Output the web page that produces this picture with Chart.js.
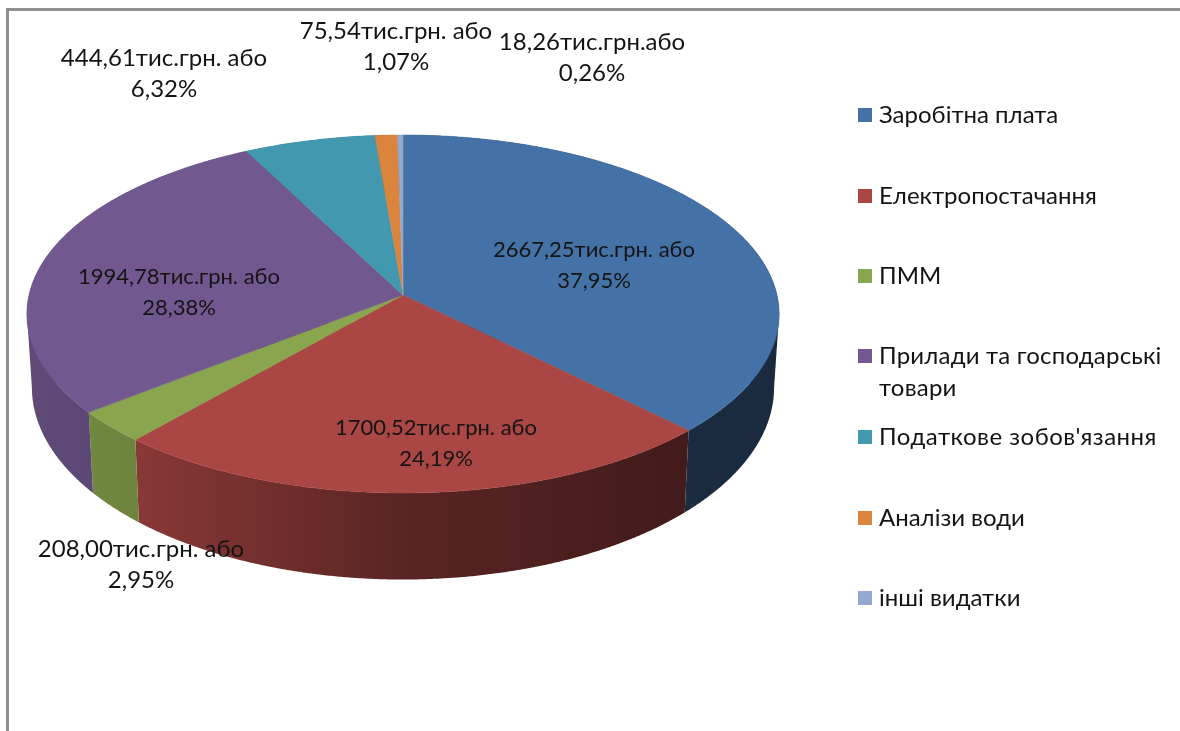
<!DOCTYPE html>
<html lang="uk">

<head>
  <meta charset="UTF-8">
  <title>Структура видатків</title>
  <script src="https://cdn.jsdelivr.net/npm/chart.js"></script>
  <style>
    html, body { margin: 0; padding: 0; background: #fff; overflow: hidden; }
    canvas { display: block; filter: blur(0.5px); }
  </style>
</head>

<body>
  <canvas id="cost-chart" width="1180" height="731"></canvas>

  <script>
    const categories = ['Заробітна плата', 'Електропостачання', 'ПММ', 'Прилади та господарські товари',
      'Податкове зобов\'язання', 'Аналізи води', 'інші видатки'];
    const amounts = [2667.25, 1700.52, 208.00, 1994.78, 444.61, 75.54, 18.26];
    const amountLabels = ['2667,25тис.грн. або', '1700,52тис.грн. або', '208,00тис.грн. або', '1994,78тис.грн. або',
      '444,61тис.грн. або', '75,54тис.грн. або', '18,26тис.грн.або'];
    const percentLabels = ['37,95%', '24,19%', '2,95%', '28,38%', '6,32%', '1,07%', '0,26%'];
    const colors = ['#4472A6', '#AA4643', '#89A54E', '#71588F', '#4198AF', '#DB843D', '#93A9CF'];

    // where each data label sits (centre x, first line y, font px)
    const labelX = [594, 436, 141, 179, 164, 396, 592];
    const labelY = [250, 428, 549, 277, 58, 31, 42];
    const labelSize = [22, 22, 24, 22, 24, 24, 24];
    const legendRows = [115, 196, 276, 356, 437, 518, 598];
    const legendSpacing = [0, 0, 0, 0.2, 0.5, 0, 0];

    const FONT_FAMILY = 'Lato, "Noto Sans", sans-serif';
    const TEXT_COLOR = '#141414';
    const TOP = { cx: 403, cy: 295, a: 374, b: 177 };
    const BOTTOM = { cx: 403, cy: 367, a: 369, b: 190 };
    const TILT = 0.106;
    // side wall gets darker from left to right: [x, brightness]
    const WALL_LIGHT = [[30, 0.84], [140, 0.8], [400, 0.53], [680, 0.39], [780, 0.38]];

    // the 3d view: circle angle -> point on the tilted disc
    function project(disc, angle) {
      const u = Math.cos(angle), v = Math.sin(angle);
      const w = 1 - TILT * v;
      return [disc.cx + disc.a * u / w, disc.cy + disc.b * v / w];
    }

    function darken(hex, f) {
      const n = parseInt(hex.slice(1), 16);
      return `rgb(${Math.round((n >> 16) * f)},${Math.round(((n >> 8) & 255) * f)},${Math.round((n & 255) * f)})`;
    }

    function arcAngles(arc) {
      const list = [];
      for (let a = arc.startAngle; a < arc.endAngle; a += 0.005) list.push(a);
      list.push(arc.endAngle);
      return list;
    }

    function wallGradient(ctx, color) {
      const x0 = WALL_LIGHT[0][0], x1 = WALL_LIGHT[WALL_LIGHT.length - 1][0];
      const gradient = ctx.createLinearGradient(x0, 0, x1, 0);
      WALL_LIGHT.forEach(s => gradient.addColorStop((s[0] - x0) / (x1 - x0), darken(color, s[1])));
      return gradient;
    }

    function drawSides(ctx, arcs) {
      arcs.forEach((arc, i) => {
        const angles = arcAngles(arc);
        ctx.fillStyle = wallGradient(ctx, colors[i]);
        ctx.beginPath();
        angles.forEach((a, k) => {
          const p = project(TOP, a);
          if (k === 0) ctx.moveTo(p[0], p[1]);
          else ctx.lineTo(p[0], p[1]);
        });
        angles.reverse().forEach(a => {
          const p = project(BOTTOM, a);
          ctx.lineTo(p[0], p[1]);
        });
        ctx.closePath();
        ctx.fill();
      });

      // outline of the drum between the widest points of both discs
      [Math.asin(TILT), Math.PI - Math.asin(TILT)].forEach(angle => {
        const i = arcs.findIndex(arc => angle >= arc.startAngle && angle <= arc.endAngle);
        const p1 = project(TOP, angle), p2 = project(BOTTOM, angle);
        ctx.fillStyle = wallGradient(ctx, colors[i]);
        ctx.beginPath();
        ctx.moveTo(p1[0], p1[1]);
        ctx.lineTo(p2[0], p2[1]);
        ctx.lineTo(TOP.cx, TOP.cy + 30);
        ctx.closePath();
        ctx.fill();
      });
    }

    function drawTop(ctx, arcs) {
      arcs.forEach((arc, i) => {
        ctx.fillStyle = colors[i];
        ctx.strokeStyle = colors[i];
        ctx.lineWidth = 0.5;
        ctx.beginPath();
        ctx.moveTo(TOP.cx, TOP.cy);
        arcAngles(arc).forEach(a => {
          const p = project(TOP, a);
          ctx.lineTo(p[0], p[1]);
        });
        ctx.closePath();
        ctx.fill();
        ctx.stroke();
      });
    }

    const pie3d = {
      id: 'pie3d',
      beforeDraw(chart) {
        const ctx = chart.ctx;
        ctx.save();
        ctx.strokeStyle = '#909090';
        ctx.lineWidth = 3;
        ctx.beginPath();
        ctx.moveTo(7.5, 731);
        ctx.lineTo(7.5, 9.5);
        ctx.lineTo(1180, 9.5);
        ctx.stroke();
        ctx.restore();
      },
      // Chart.js works out the slice angles, the tilted disc is painted here
      beforeDatasetDraw(chart) {
        const ctx = chart.ctx;
        const arcs = chart.getDatasetMeta(0).data;
        ctx.save();
        drawSides(ctx, arcs);
        drawTop(ctx, arcs);
        ctx.restore();
        return false;
      },
      afterDraw(chart) {
        const ctx = chart.ctx;
        ctx.save();
        ctx.fillStyle = TEXT_COLOR;
        ctx.textBaseline = 'middle';
        ctx.textAlign = 'center';
        amountLabels.forEach((text, i) => {
          ctx.font = `${labelSize[i]}px ${FONT_FAMILY}`;
          ctx.fillText(text, labelX[i], labelY[i]);
          ctx.fillText(percentLabels[i], labelX[i], labelY[i] + 31);
        });
        ctx.textAlign = 'left';
        ctx.font = `24px ${FONT_FAMILY}`;
        categories.forEach((name, i) => {
          ctx.fillStyle = colors[i];
          ctx.fillRect(858, legendRows[i] - 7, 14, 14);
          ctx.fillStyle = TEXT_COLOR;
          ctx.letterSpacing = legendSpacing[i] + 'px';
          if (i === 3) {
            ctx.fillText('Прилади та господарські', 879, legendRows[i]);
            ctx.fillText('товари', 879, legendRows[i] + 32);
          } else {
            ctx.fillText(name, 879, legendRows[i]);
          }
        });
        ctx.restore();
      }
    };

    new Chart(document.getElementById('cost-chart').getContext('2d'), {
      type: 'pie',
      data: {
        labels: categories,
        datasets: [{ data: amounts, backgroundColor: colors, borderWidth: 0 }]
      },
      options: {
        responsive: false,
        animation: false,
        plugins: { legend: { display: false }, tooltip: { enabled: false } }
      },
      plugins: [pie3d]
    });
  </script>
</body>

</html>
